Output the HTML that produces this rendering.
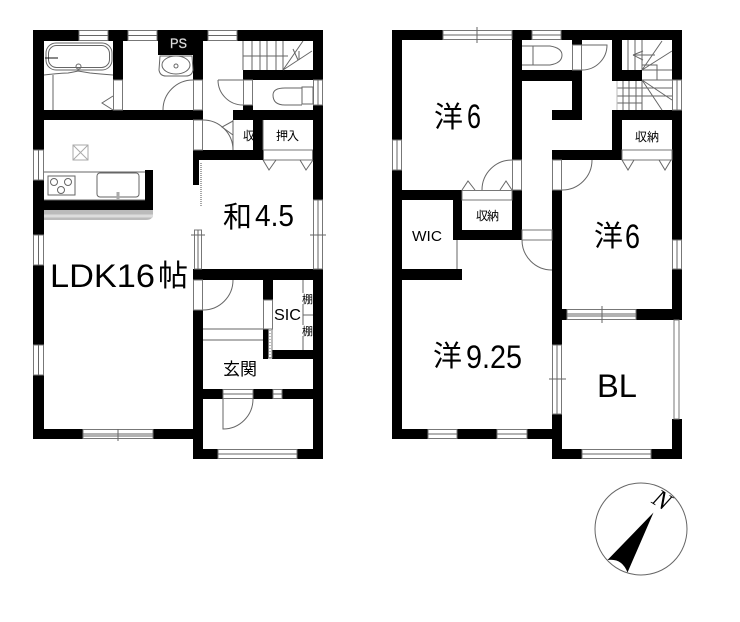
<!DOCTYPE html>
<html><head><meta charset="utf-8"><style>
html,body{margin:0;padding:0;background:#fff}
svg{display:block}
text{font-family:"Liberation Sans","Noto Sans CJK JP",sans-serif;fill:#000}
.w rect{fill:#000;stroke:none}
.l *{fill:none;stroke:#666;stroke-width:1}
.f *{fill:#fff;stroke:#777;stroke-width:1}
</style></head><body>
<svg width="740" height="622" viewBox="0 0 740 622" xmlns="http://www.w3.org/2000/svg">
<rect width="740" height="622" fill="#fff"/>
<g class="w">
<!-- 1F -->
<rect x="33" y="30" width="290" height="11"/>
<rect x="33" y="30" width="11" height="409"/>
<rect x="158" y="30" width="45" height="25"/>
<rect x="193" y="30" width="10" height="50"/>
<rect x="113" y="30" width="10" height="50"/>
<rect x="33" y="110" width="170" height="10"/>
<rect x="243" y="70" width="80" height="10"/>
<rect x="313" y="30" width="10" height="429"/>
<rect x="233" y="110" width="90" height="10"/>
<rect x="243" y="105" width="10" height="6"/>
<rect x="253" y="110" width="10" height="50"/>
<rect x="193" y="150" width="70" height="10"/>
<rect x="193" y="150" width="6" height="35"/>
<rect x="44" y="200" width="109" height="10"/>
<rect x="145" y="170" width="8" height="40"/>
<rect x="193" y="269" width="130" height="11"/>
<rect x="193" y="310" width="10" height="149"/>
<rect x="33" y="429" width="170" height="10"/>
<rect x="193" y="449" width="130" height="10"/>
<rect x="203" y="389" width="120" height="10"/>
<rect x="263" y="280" width="10" height="20"/>
<rect x="263" y="329" width="5" height="30"/>
<rect x="272" y="350" width="51" height="9"/>
<!-- 2F -->
<rect x="392" y="30" width="290" height="10"/>
<rect x="392" y="30" width="10" height="409"/>
<rect x="512" y="30" width="10" height="210"/>
<rect x="402" y="190" width="60" height="10"/>
<rect x="453" y="190" width="9" height="50"/>
<rect x="453" y="230" width="69" height="10"/>
<rect x="512" y="70" width="70" height="11"/>
<rect x="572" y="70" width="10" height="50"/>
<rect x="552" y="110" width="30" height="10"/>
<rect x="572" y="40" width="10" height="5"/>
<rect x="612" y="30" width="10" height="50"/>
<rect x="612" y="70" width="30" height="11"/>
<rect x="672" y="30" width="10" height="290"/>
<rect x="612" y="110" width="70" height="10"/>
<rect x="612" y="110" width="10" height="50"/>
<rect x="552" y="150" width="70" height="10"/>
<rect x="552" y="190" width="10" height="269"/>
<rect x="392" y="269" width="70" height="11"/>
<rect x="392" y="429" width="170" height="10"/>
<rect x="552" y="309" width="130" height="11"/>
<rect x="672" y="419" width="10" height="40"/>
<rect x="552" y="449" width="130" height="10"/>
</g>
<g class="f">
<!-- 1F windows -->
<rect x="79" y="30.5" width="29" height="10"/><rect x="128" y="30.5" width="29" height="10"/><rect x="208" y="30.5" width="29" height="10"/>
<rect x="33.5" y="150" width="10" height="30"/><rect x="33.5" y="235" width="10" height="30"/><rect x="33.5" y="345" width="10" height="30"/>
<rect x="313.5" y="80" width="9" height="25"/><rect x="313.5" y="200" width="9" height="69"/>
<rect x="83" y="429.5" width="70" height="9"/><rect x="218" y="449.5" width="79" height="9"/>
<rect x="223" y="389.5" width="30" height="9"/><rect x="273" y="389.5" width="9" height="9"/>
<rect x="113.5" y="80" width="9" height="30"/><rect x="193.5" y="80" width="9" height="30"/>
<rect x="243.5" y="80" width="9" height="25"/><rect x="193.5" y="120" width="9" height="30"/><rect x="193.5" y="280" width="9" height="30"/>
<rect x="263.5" y="300" width="9" height="29"/><rect x="263.5" y="150" width="49" height="10"/>
<rect x="194.5" y="230" width="7" height="39"/>
<rect x="268.5" y="329" width="3.500" height="29"/>
<!-- 2F windows -->
<rect x="443" y="30.5" width="69" height="9"/><rect x="532" y="30.5" width="29" height="9"/>
<rect x="392.5" y="140" width="9" height="30"/><rect x="672.5" y="80" width="9" height="30"/><rect x="672.5" y="240" width="9" height="29"/>
<rect x="428" y="429.5" width="29" height="9"/><rect x="497" y="429.5" width="30" height="9"/>
<rect x="567" y="309.5" width="69" height="10"/><rect x="582" y="449.5" width="69" height="9"/>
<rect x="552.5" y="345" width="9" height="69"/><rect x="674" y="320" width="5" height="99"/>
<rect x="572.5" y="45" width="9" height="25"/><rect x="512.5" y="160" width="9" height="30"/><rect x="552.5" y="160" width="9" height="30"/>
<rect x="522" y="230" width="30" height="10"/><rect x="462" y="190.5" width="50" height="9.500"/><rect x="622" y="150" width="50" height="10"/>
</g>
<g class="l">
<!-- window centre lines and ticks -->
<path d="M79 35.500H108M128 35.500H157M208 35.500H237M38.500 150V180M38.500 235V265M38.500 345V375M318 80V105M318 200V269M83 434H153M83 436H153M218 454H297M223 394H253M273 394H282"/>
<path d="M118 429V441M310 235H326M191 235H205M198 230V269"/>
<path d="M443 35H512M477 27V43M532 35H561M397 140V170M677 80V110M677 240V269M428 434H457M497 434H527M567 314H636M567 316H636M602 306V323M582 454H651M557 345V414M549 379H566"/>
<!-- 1F doors -->
<path d="M163 110A30 30 0 0 1 193 80M218 80A25 25 0 0 0 243 105M218 80H243M203 120A30 30 0 0 1 233 150M233 120V150M203 310A30 30 0 0 0 233 280M223 399V429A30 30 0 0 0 253 399"/>
<path d="M113 96L102 103L113 110M233 121L222 127L233 135M263 160L269 170L276 160M300 160L306 170L313 160"/>
<path d="M53 75V110M44 75Q62 73 68 73Q74 72 78 71Q84 72 90 73Q100 74 113 75"/>
<path d="M203 329H263M203 340H263M303 280V350M303 315H313"/>
<path d="M263 120V150"/>
<!-- 1F bath -->
<rect x="46" y="43" width="66" height="27" rx="10"/>
<rect x="48.500" y="45.500" width="61" height="22" rx="8"/>
<circle cx="78.500" cy="66.500" r="2.500"/>
<path d="M45 58H58" style="stroke:#111"/>
<!-- sink -->
<path d="M160 56H192L193 70Q192 76 186 76H166Q160 76 159 70Z"/>
<ellipse cx="176" cy="65" rx="14" ry="9"/>
<circle cx="176" cy="66" r="2"/>
<!-- 1F toilet -->
<path d="M302 87H313V104H302ZM302 88H285Q273 88 273 95Q273 105 285 105H302"/>
<!-- 1F stairs -->
<path d="M243 41V70M252 41V70M260 41V70M267 41V70M276 41V70M283 41V70M243 56H288M283 70L303 41M283 70L312 51M293 49L298 60M299 51V60"/>
<!-- kitchen -->
<path d="M44 172H145M44 200H145"/>
<rect x="48" y="176" width="27" height="19"/>
<circle cx="54" cy="182" r="3.500"/><circle cx="68" cy="182" r="3.500"/><circle cx="61" cy="190" r="3.500"/>
<rect x="97" y="173" width="42" height="24" rx="3"/>
<path d="M118 192V200" style="stroke-width:3;stroke:#aaa"/>
<g style="opacity:.55"><rect x="73" y="145" width="15" height="15"/><path d="M73 145L88 160M88 145L73 160"/></g>
<!-- 2F toilet -->
<path d="M522 46H533V65H522M533 46H550Q562 48 562 55Q562 63 550 65H533"/>
<path d="M582 70A25 25 0 0 0 607 45H582"/>
<path d="M482 190A30 30 0 0 1 512 160M462 190L468 181L475 190M500 190L506 181L512 190"/>
<path d="M562 190A30 30 0 0 0 592 160M622 160L628 170L634 160M659 160L665 170L671 160"/>
<path d="M522 240A30 30 0 0 0 552 270M457 240V269"/>
<!-- 2F stairs -->
<path d="M628 40V70M635 40V70M642 40V70M642 70L662 41M642 70L672 51M642 70H672M642 65H657V80M633 55H655M633 55L643 51M633 55L643 60"/>
<path d="M642 80H672M617 88H672M617 96H672M617 103H642M623 81V110M629 81V110M636 81V110M642 81V110M642 80L672 100M642 80L662 110"/>
<path d="M617 81V110" style="stroke:#bbb"/>
<!-- compass -->
<circle cx="641" cy="529" r="46"/>
</g>
<path d="M44 210H153V214Q153 220 146 220H44Z" fill="#bbb"/>
<path d="M44 216H153" stroke="#ddd" stroke-width="3"/>
<rect x="199" y="163" width="4" height="44" fill="#fff"/>
<path d="M201 163V207" stroke="#888" stroke-width="1.500" stroke-dasharray="1 1"/>
<path d="M270 330V358" stroke="#777" stroke-dasharray="1 2"/>
<!-- needle -->
<path d="M653.500 512.500L607.500 560Q622 558 627.500 572.500Z" fill="#000"/>
<text transform="translate(662 500) rotate(32)" x="0" y="8" text-anchor="middle" style="font-family:'Liberation Serif',serif;font-style:italic;font-size:25px">N</text>
<!-- labels -->
<text x="50" y="287" font-size="32" textLength="105" lengthAdjust="spacingAndGlyphs">LDK16</text>
<text x="158" y="286" font-size="30">帖</text>
<text x="223" y="227" font-size="29">和</text>
<text x="255" y="226" font-size="31" textLength="39" lengthAdjust="spacingAndGlyphs">4.5</text>
<text x="223" y="375" font-size="17" textLength="34">玄関</text>
<text x="276" y="140" font-size="12" textLength="23">押入</text>
<text x="243" y="140" font-size="12">収</text>
<rect x="302" y="293" width="10" height="11" fill="#fff"/>
<rect x="302" y="325" width="10" height="11" fill="#fff"/>
<text x="274" y="320" font-size="16" textLength="27" lengthAdjust="spacingAndGlyphs">SIC</text>
<text x="302" y="303" font-size="11">棚</text>
<text x="302" y="335" font-size="11">棚</text>
<text x="170" y="48" font-size="14" style="fill:#fff" stroke="#999" stroke-width=".5" textLength="17" lengthAdjust="spacingAndGlyphs">PS</text>
<text x="434" y="127" font-size="29">洋</text>
<text x="467" y="128" font-size="34" textLength="14" lengthAdjust="spacingAndGlyphs">6</text>
<text x="594" y="246" font-size="29">洋</text>
<text x="625" y="248" font-size="34" textLength="15" lengthAdjust="spacingAndGlyphs">6</text>
<text x="433" y="366" font-size="29">洋</text>
<text x="466" y="368" font-size="32" textLength="56" lengthAdjust="spacingAndGlyphs">9.25</text>
<text x="597" y="397" font-size="32" textLength="40" lengthAdjust="spacingAndGlyphs">BL</text>
<text x="412" y="241" font-size="15" textLength="30" lengthAdjust="spacingAndGlyphs">WIC</text>
<text x="476" y="220" font-size="12" textLength="23">収納</text>
<text x="635" y="141" font-size="12" textLength="24">収納</text>
</svg>
</body></html>
